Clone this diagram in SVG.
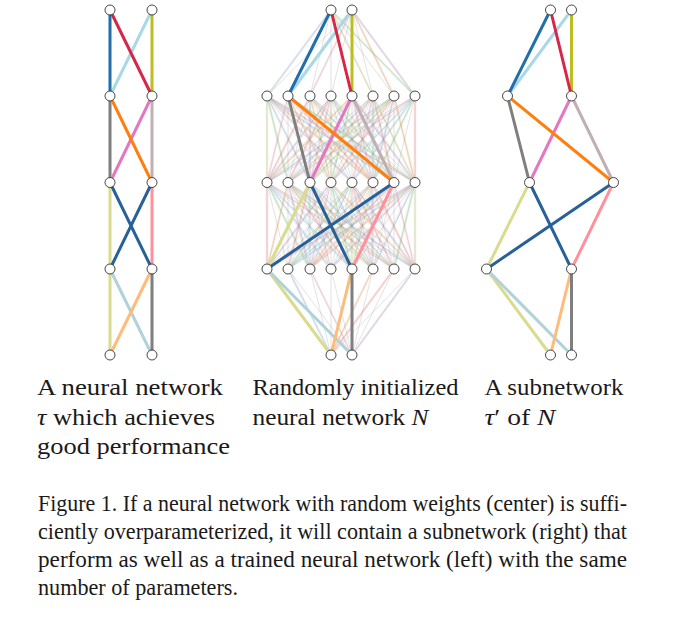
<svg xmlns="http://www.w3.org/2000/svg" xmlns:xlink="http://www.w3.org/1999/xlink" width="678" height="626" viewBox="0 0 678 626">
<defs>
<style>
.n{fill:#fff;stroke:#333;stroke-width:0.9}
.e{fill:none;stroke-width:3;stroke-linecap:round}
.thin{fill:none;stroke:#8c8c8c;stroke-width:0.5;stroke-linejoin:round;opacity:0.5}
.f{fill:none;stroke-width:2.5;opacity:0.3;stroke-linecap:round}
.lbl{font-family:"Liberation Serif","Times New Roman",Times,serif;font-size:24px;fill:#1a1a1a}
.cap{font-family:"Liberation Serif","Times New Roman",Times,serif;font-size:22.5px;fill:#1a1a1a}
.it{font-style:italic}
.blue{stroke:#1f6fae}.red{stroke:#d62748}.yg{stroke:#bcbd22}.lb{stroke:#a9d8e6}
.gray{stroke:#7f7f7f}.org{stroke:#ff7f0e}.pink{stroke:#e377c2}.mauve{stroke:#c0afb4}
.pyg{stroke:#d9dc8e}.db{stroke:#28609a}.lr{stroke:#ff919c}.lbg{stroke:#b0d2db}.lo{stroke:#ffbb78}
</style>
<path id="k88" class="thin" d="M267 96L288 182.5 288 96 310 182.5 310 96 331 182.5 331 96 352 182.5 352 96 373 182.5 373 96 394 182.5 394 96 415 182.5 415 96 267 182.5 267 96 331 182.5 288 96 352 182.5 310 96 373 182.5 331 96 394 182.5 352 96 415 182.5 373 96 267 182.5 394 96 288 182.5 415 96 310 182.5 267 96 373 182.5 288 96 394 182.5 310 96 415 182.5 331 96 267 182.5 352 96 288 182.5 373 96 310 182.5 394 96 331 182.5 415 96 352 182.5 267 96 415 182.5 288 96 267 182.5 310 96 288 182.5 331 96 310 182.5 352 96 331 182.5 373 96 352 182.5 394 96 373 182.5 415 96 394 182.5 267 96"/>
<g id="f88">
<path class="f" stroke="#aec7e8" d="M267 96L310 182.5M331 96L373 182.5M373 96L288 182.5M415 96L352 182.5M310 96L394 182.5M394 96L267 182.5"/>
<path class="f" stroke="#ffbb78" d="M288 96L331 182.5M352 96L267 182.5M394 96L415 182.5M310 96L373 182.5M373 96L310 182.5M267 96L373 182.5"/>
<path class="f" stroke="#98df8a" d="M267 96L288 182.5M331 96L394 182.5M394 96L310 182.5M415 96L373 182.5M352 96L331 182.5M288 96L415 182.5"/>
<path class="f" stroke="#ff9896" d="M288 96L373 182.5M310 96L267 182.5M373 96L394 182.5M394 96L331 182.5M415 96L415 182.5M331 96L288 182.5"/>
<path class="f" stroke="#c5b0d5" d="M267 96L352 182.5M331 96L267 182.5M352 96L415 182.5M394 96L373 182.5M310 96L310 182.5"/>
<path class="f" stroke="#f7b6d2" d="M288 96L267 182.5M331 96L310 182.5M373 96L352 182.5M352 96L373 182.5M415 96L288 182.5M267 96L415 182.5"/>
<path class="f" stroke="#dbdb8d" d="M267 96L267 182.5M310 96L331 182.5M373 96L415 182.5M394 96L288 182.5M331 96L331 182.5"/>
<path class="f" stroke="#9edae5" d="M288 96L394 182.5M352 96L310 182.5M415 96L331 182.5M267 96L394 182.5M373 96L373 182.5"/>
</g>
</defs>
<rect width="678" height="626" fill="#fff"/>
<g id="connectors">
<g id="middle-background">
<path class="f" stroke="#aec7e8" d="M331 10L267 96"/>
<path class="f" stroke="#ffbb78" d="M352 10L394 96"/>
<path class="f" stroke="#98df8a" d="M331 10L415 96"/>
<path class="f" stroke="#f7b6d2" d="M352 10L310 96"/>
<path class="f" stroke="#dbdb8d" d="M331 10L373 96"/>
<path class="f" stroke="#c5b0d5" d="M352 10L415 96"/>
<use xlink:href="#f88"/>
<use xlink:href="#f88" transform="translate(682,86.5) scale(-1,1)"/>
<path class="f" stroke="#f7b6d2" d="M310 269L352 355"/>
<path class="f" stroke="#ff9896" d="M394 269L331 355"/>
<path class="f" stroke="#c5b0d5" d="M415 269L352 355"/>
<path class="f" stroke="#aec7e8" d="M288 269L331 355"/>
<path class="f" stroke="#ffbb78" d="M373 269L331 355"/>
<path class="thin" d="M331 10L267 96 352 10 288 96 331 10 310 96 352 10 331 96 331 10 352 96 352 10 373 96 331 10 394 96 352 10 415 96 331 10"/>
<use xlink:href="#k88"/>
<use xlink:href="#k88" transform="translate(0,86.5)"/>
<path class="thin" d="M331 355L267 269 352 355 288 269 331 355 310 269 352 355 331 269 331 355 352 269 352 355 373 269 331 355 394 269 352 355 415 269 331 355"/>
</g>
<g id="left-edges">
<line class="e lb" x1="152" y1="10" x2="110" y2="96"/>
<line class="e blue" x1="110" y1="10" x2="110" y2="96"/>
<line class="e yg" x1="152" y1="10" x2="152" y2="96"/>
<line class="e red" x1="110" y1="10" x2="152" y2="96"/>
<line class="e gray" x1="110" y1="96" x2="110" y2="182.5"/>
<line class="e mauve" x1="152" y1="96" x2="152" y2="182.5"/>
<line class="e pink" x1="152" y1="96" x2="110" y2="182.5"/>
<line class="e org" x1="110" y1="96" x2="152" y2="182.5"/>
<line class="e pyg" x1="110" y1="182.5" x2="110" y2="269"/>
<line class="e lr" x1="152" y1="182.5" x2="152" y2="269"/>
<line class="e db" x1="110" y1="182.5" x2="152" y2="269"/>
<line class="e db" x1="152" y1="182.5" x2="110" y2="269"/>
<line class="e pyg" x1="110" y1="269" x2="110" y2="355"/>
<line class="e lbg" x1="110" y1="269" x2="152" y2="355"/>
<line class="e lo" x1="152" y1="269" x2="110" y2="355"/>
<line class="e gray" x1="152" y1="269" x2="152" y2="355"/>
</g>
<g id="middle-edges">
<line class="e lb" x1="352" y1="10" x2="288" y2="96"/>
<line class="e blue" x1="331" y1="10" x2="288" y2="96"/>
<line class="e yg" x1="352" y1="10" x2="352" y2="96"/>
<line class="e red" x1="331" y1="10" x2="352" y2="96"/>
<line class="e gray" x1="288" y1="96" x2="310" y2="182.5"/>
<line class="e mauve" x1="352" y1="96" x2="394" y2="182.5"/>
<line class="e pink" x1="352" y1="96" x2="310" y2="182.5"/>
<line class="e org" x1="288" y1="96" x2="394" y2="182.5"/>
<line class="e pyg" x1="310" y1="182.5" x2="267" y2="269"/>
<line class="e lr" x1="394" y1="182.5" x2="352" y2="269"/>
<line class="e db" x1="310" y1="182.5" x2="352" y2="269"/>
<line class="e db" x1="394" y1="182.5" x2="267" y2="269"/>
<line class="e pyg" x1="267" y1="269" x2="331" y2="355"/>
<line class="e lbg" x1="267" y1="269" x2="352" y2="355"/>
<line class="e lo" x1="352" y1="269" x2="331" y2="355"/>
<line class="e gray" x1="352" y1="269" x2="352" y2="355"/>
</g>
<g id="right-edges">
<line class="e lb" x1="571.5" y1="10" x2="507.5" y2="96"/>
<line class="e blue" x1="550.5" y1="10" x2="507.5" y2="96"/>
<line class="e yg" x1="571.5" y1="10" x2="571.5" y2="96"/>
<line class="e red" x1="550.5" y1="10" x2="571.5" y2="96"/>
<line class="e gray" x1="507.5" y1="96" x2="529.5" y2="182.5"/>
<line class="e mauve" x1="571.5" y1="96" x2="613.5" y2="182.5"/>
<line class="e pink" x1="571.5" y1="96" x2="529.5" y2="182.5"/>
<line class="e org" x1="507.5" y1="96" x2="613.5" y2="182.5"/>
<line class="e pyg" x1="529.5" y1="182.5" x2="486.5" y2="269"/>
<line class="e lr" x1="613.5" y1="182.5" x2="571.5" y2="269"/>
<line class="e db" x1="529.5" y1="182.5" x2="571.5" y2="269"/>
<line class="e db" x1="613.5" y1="182.5" x2="486.5" y2="269"/>
<line class="e pyg" x1="486.5" y1="269" x2="550.5" y2="355"/>
<line class="e lbg" x1="486.5" y1="269" x2="571.5" y2="355"/>
<line class="e lo" x1="571.5" y1="269" x2="550.5" y2="355"/>
<line class="e gray" x1="571.5" y1="269" x2="571.5" y2="355"/>
</g>
</g>
<g id="left-nodes">
<g id="L-in-0"><circle class="n" cx="110" cy="10" r="5"/></g>
<g id="L-in-1"><circle class="n" cx="152" cy="10" r="5"/></g>
<g id="L-h1-0"><circle class="n" cx="110" cy="96" r="5"/></g>
<g id="L-h1-1"><circle class="n" cx="152" cy="96" r="5"/></g>
<g id="L-h2-0"><circle class="n" cx="110" cy="182.5" r="5"/></g>
<g id="L-h2-1"><circle class="n" cx="152" cy="182.5" r="5"/></g>
<g id="L-h3-0"><circle class="n" cx="110" cy="269" r="5"/></g>
<g id="L-h3-1"><circle class="n" cx="152" cy="269" r="5"/></g>
<g id="L-out-0"><circle class="n" cx="110" cy="355" r="5"/></g>
<g id="L-out-1"><circle class="n" cx="152" cy="355" r="5"/></g>
</g>
<g id="middle-nodes">
<g id="M-in-0"><circle class="n" cx="331" cy="10" r="5"/></g>
<g id="M-in-1"><circle class="n" cx="352" cy="10" r="5"/></g>
<g id="M-h1-0"><circle class="n" cx="267" cy="96" r="5"/></g>
<g id="M-h1-1"><circle class="n" cx="288" cy="96" r="5"/></g>
<g id="M-h1-2"><circle class="n" cx="310" cy="96" r="5"/></g>
<g id="M-h1-3"><circle class="n" cx="331" cy="96" r="5"/></g>
<g id="M-h1-4"><circle class="n" cx="352" cy="96" r="5"/></g>
<g id="M-h1-5"><circle class="n" cx="373" cy="96" r="5"/></g>
<g id="M-h1-6"><circle class="n" cx="394" cy="96" r="5"/></g>
<g id="M-h1-7"><circle class="n" cx="415" cy="96" r="5"/></g>
<g id="M-h2-0"><circle class="n" cx="267" cy="182.5" r="5"/></g>
<g id="M-h2-1"><circle class="n" cx="288" cy="182.5" r="5"/></g>
<g id="M-h2-2"><circle class="n" cx="310" cy="182.5" r="5"/></g>
<g id="M-h2-3"><circle class="n" cx="331" cy="182.5" r="5"/></g>
<g id="M-h2-4"><circle class="n" cx="352" cy="182.5" r="5"/></g>
<g id="M-h2-5"><circle class="n" cx="373" cy="182.5" r="5"/></g>
<g id="M-h2-6"><circle class="n" cx="394" cy="182.5" r="5"/></g>
<g id="M-h2-7"><circle class="n" cx="415" cy="182.5" r="5"/></g>
<g id="M-h3-0"><circle class="n" cx="267" cy="269" r="5"/></g>
<g id="M-h3-1"><circle class="n" cx="288" cy="269" r="5"/></g>
<g id="M-h3-2"><circle class="n" cx="310" cy="269" r="5"/></g>
<g id="M-h3-3"><circle class="n" cx="331" cy="269" r="5"/></g>
<g id="M-h3-4"><circle class="n" cx="352" cy="269" r="5"/></g>
<g id="M-h3-5"><circle class="n" cx="373" cy="269" r="5"/></g>
<g id="M-h3-6"><circle class="n" cx="394" cy="269" r="5"/></g>
<g id="M-h3-7"><circle class="n" cx="415" cy="269" r="5"/></g>
<g id="M-out-0"><circle class="n" cx="331" cy="355" r="5"/></g>
<g id="M-out-1"><circle class="n" cx="352" cy="355" r="5"/></g>
</g>
<g id="right-nodes">
<g id="R-in-0"><circle class="n" cx="550.5" cy="10" r="5"/></g>
<g id="R-in-1"><circle class="n" cx="571.5" cy="10" r="5"/></g>
<g id="R-h1-0"><circle class="n" cx="507.5" cy="96" r="5"/></g>
<g id="R-h1-1"><circle class="n" cx="571.5" cy="96" r="5"/></g>
<g id="R-h2-0"><circle class="n" cx="529.5" cy="182.5" r="5"/></g>
<g id="R-h2-1"><circle class="n" cx="613.5" cy="182.5" r="5"/></g>
<g id="R-h3-0"><circle class="n" cx="486.5" cy="269" r="5"/></g>
<g id="R-h3-1"><circle class="n" cx="571.5" cy="269" r="5"/></g>
<g id="R-out-0"><circle class="n" cx="550.5" cy="355" r="5"/></g>
<g id="R-out-1"><circle class="n" cx="571.5" cy="355" r="5"/></g>
</g>
<g id="labels">
<text class="lbl" x="37" y="395" textLength="186" lengthAdjust="spacingAndGlyphs">A neural network</text>
<text class="lbl" x="37" y="424.5" textLength="178" lengthAdjust="spacingAndGlyphs"><tspan class="it">τ</tspan> which achieves</text>
<text class="lbl" x="37" y="454" textLength="193" lengthAdjust="spacingAndGlyphs">good performance</text>
<text class="lbl" x="252.5" y="395" textLength="206" lengthAdjust="spacingAndGlyphs">Randomly initialized</text>
<text class="lbl" x="252.5" y="424.5" textLength="176" lengthAdjust="spacingAndGlyphs">neural network <tspan class="it">N</tspan></text>
<text class="lbl" x="484.5" y="395" textLength="139" lengthAdjust="spacingAndGlyphs">A subnetwork</text>
<text class="lbl" x="484.5" y="424.5" textLength="71" lengthAdjust="spacingAndGlyphs"><tspan class="it">τ</tspan>′ of <tspan class="it">N</tspan></text>
</g>
<g id="caption">
<text class="cap" x="38" y="511" textLength="589" lengthAdjust="spacingAndGlyphs">Figure 1. If a neural network with random weights (center) is suffi-</text>
<text class="cap" x="38" y="539" textLength="589" lengthAdjust="spacingAndGlyphs">ciently overparameterized, it will contain a subnetwork (right) that</text>
<text class="cap" x="38" y="567" textLength="589" lengthAdjust="spacingAndGlyphs">perform as well as a trained neural network (left) with the same</text>
<text class="cap" x="38" y="595" textLength="200" lengthAdjust="spacingAndGlyphs">number of parameters.</text>
</g>
</svg>
